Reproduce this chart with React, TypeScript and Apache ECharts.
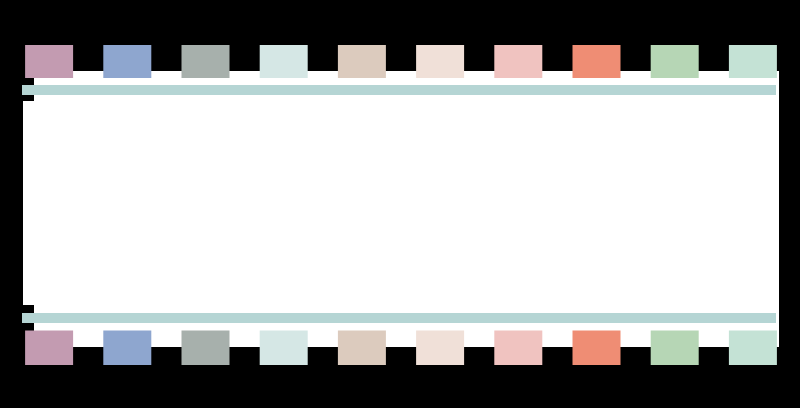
import React, { useEffect, useRef } from "react";
import * as echarts from "echarts";

const frames = ["1", "2", "3", "4", "5", "6", "7", "8", "9", "10"];
const frameColors = [
  "#c39bb1",
  "#8ea6cf",
  "#a7b0ac",
  "#d5e7e5",
  "#dccbbe",
  "#f0e0d8",
  "#f0c3c0",
  "#ef8d74",
  "#b6d6b5",
  "#c4e2d5",
];
const topValues = [1, 1, 1, 1, 1, 1, 1, 1, 1, 1];
const bottomValues = [1, 1, 1, 1, 1, 1, 1, 1, 1, 1];

export default function App() {
  const ref = useRef<HTMLDivElement>(null);
  useEffect(() => {
    if (!ref.current) return;
    const chart = echarts.init(ref.current, undefined, { renderer: "svg" });
    const mkData = (vals: number[]) =>
      vals.map((v, i) => ({ value: v, itemStyle: { color: frameColors[i] } }));
    const axisX = (gridIndex: number) => ({
      type: "category" as const,
      gridIndex,
      data: frames,
      show: false,
    });
    const axisY = (gridIndex: number) => ({
      type: "value" as const,
      gridIndex,
      min: 0,
      max: 1,
      show: false,
    });
    chart.setOption({
      animation: false,
      backgroundColor: "#000000",
      grid: [
        { left: 10, right: 8, top: 45, height: 33 },
        { left: 10, right: 8, top: 330.5, height: 34.5 },
      ],
      xAxis: [axisX(0), axisX(1)],
      yAxis: [axisY(0), axisY(1)],
      graphic: [
        {
          type: "rect",
          z: -10,
          shape: { x: 23, y: 71, width: 756, height: 276 },
          style: { fill: "#ffffff" },
        },
        {
          type: "rect",
          z: -9,
          shape: { x: 22, y: 71, width: 12, height: 30 },
          style: { fill: "#000000" },
        },
        {
          type: "rect",
          z: -9,
          shape: { x: 22, y: 305, width: 12, height: 42 },
          style: { fill: "#000000" },
        },
        {
          type: "rect",
          z: -8,
          shape: { x: 22, y: 85, width: 754, height: 10 },
          style: { fill: "#b5d5d4" },
        },
        {
          type: "rect",
          z: -8,
          shape: { x: 22, y: 313, width: 754, height: 10 },
          style: { fill: "#b5d5d4" },
        },
      ],
      series: [
        {
          type: "bar",
          xAxisIndex: 0,
          yAxisIndex: 0,
          barWidth: 48,
          data: mkData(topValues),
          silent: true,
        },
        {
          type: "bar",
          xAxisIndex: 1,
          yAxisIndex: 1,
          barWidth: 48,
          data: mkData(bottomValues),
          silent: true,
        },
      ],
    });
    return () => chart.dispose();
  }, []);
  return (
    <div
      ref={ref}
      style={{ position: "fixed", left: 0, top: 0, width: 800, height: 408 }}
    />
  );
}
